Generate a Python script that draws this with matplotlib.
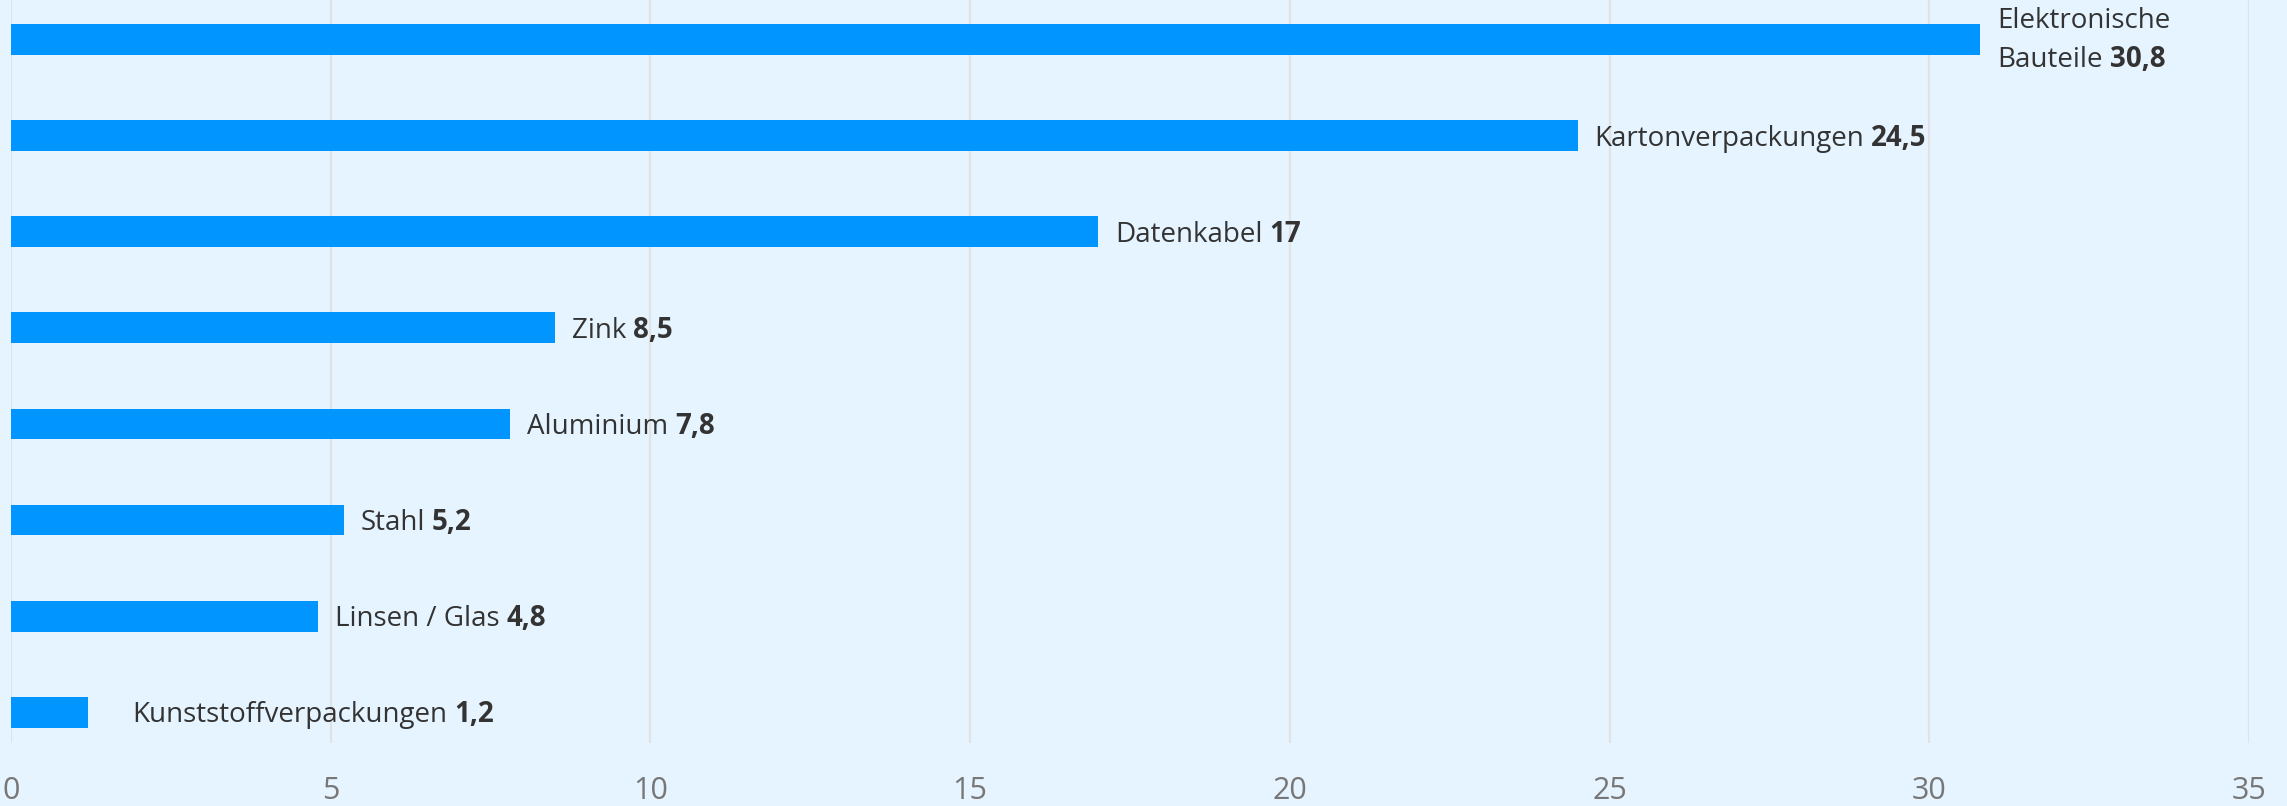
import matplotlib
matplotlib.use('Agg')
import matplotlib.pyplot as plt
from matplotlib.transforms import offset_copy

# ── data ──────────────────────────────────────────────────────────────────
NAMES = ['Elektronische\nBauteile', 'Kartonverpackungen', 'Datenkabel', 'Zink',
         'Aluminium', 'Stahl', 'Linsen / Glas', 'Kunststoffverpackungen']
VALUES = [30.8, 24.5, 17.0, 8.5, 7.8, 5.2, 4.8, 1.2]
XTICKS = [0, 5, 10, 15, 20, 25, 30, 35]

# ── style ─────────────────────────────────────────────────────────────────
C_BG = '#e6f4ff'
C_BAR = '#0095ff'
C_GRID = '#e0e2e4'
C_TXT = '#333333'
C_TICK = '#777777'
FONT = ['Open Sans', 'DejaVu Sans']
DPI = 100
LABEL_FS = 20
TICK_FS = 22
GAP_PX = 17          # bar end -> label
LABEL_MIN_X = 1.9    # labels never start left of this (data units)
LINE_PX = 39         # line spacing for wrapped labels

plt.rcParams['font.family'] = FONT

fig = plt.figure(figsize=(22.87, 8.06), dpi=DPI, facecolor=C_BG)
W, H = 2287, 806
ax = fig.add_axes([11 / W, 1 - 743 / H, (2249 - 11) / W, 743 / H])
ax.set_facecolor(C_BG)

ypos = list(range(len(VALUES)))
ax.barh(ypos, VALUES, height=0.32, color=C_BAR, zorder=3)

ax.set_xlim(0, 35)
ax.set_ylim(7.32, -0.41)
ax.set_xticks(XTICKS)
ax.set_xticklabels([str(t) for t in XTICKS])
ax.set_yticks([])
ax.tick_params(axis='x', length=0, pad=24, labelsize=TICK_FS, labelcolor=C_TICK)
for s in ax.spines.values():
    s.set_visible(False)
ax.grid(axis='x', color=C_GRID, lw=1.6, zorder=0)

fig.canvas.draw()
renderer = fig.canvas.get_renderer()

for y, name, v in zip(ypos, NAMES, VALUES):
    lines = name.split('\n')
    n = len(lines)
    x = max(v, LABEL_MIN_X)
    dx = GAP_PX if v >= LABEL_MIN_X else 0
    # baseline of each line relative to bar center (pixels, down positive)
    base0 = 10 - (n - 1) * LINE_PX / 2 - 2 * (n - 1)
    last = None
    for k, ln in enumerate(lines):
        dy = base0 + k * LINE_PX
        tr = offset_copy(ax.transData, fig=fig, x=dx, y=-dy, units='dots')
        last = ax.text(x, y, ln, transform=tr, va='baseline', ha='left',
                       fontsize=LABEL_FS, color=C_TXT)
        last_dy = dy
    wpx = last.get_window_extent(renderer).width
    tr = offset_copy(ax.transData, fig=fig, x=dx + wpx + 7, y=-last_dy, units='dots')
    val = f'{v:g}'.replace('.', ',')
    ax.text(x, y, val, transform=tr, va='baseline', ha='left',
            fontsize=LABEL_FS, color=C_TXT, fontweight='bold')

fig.savefig('out.png', dpi=DPI, facecolor=C_BG)
